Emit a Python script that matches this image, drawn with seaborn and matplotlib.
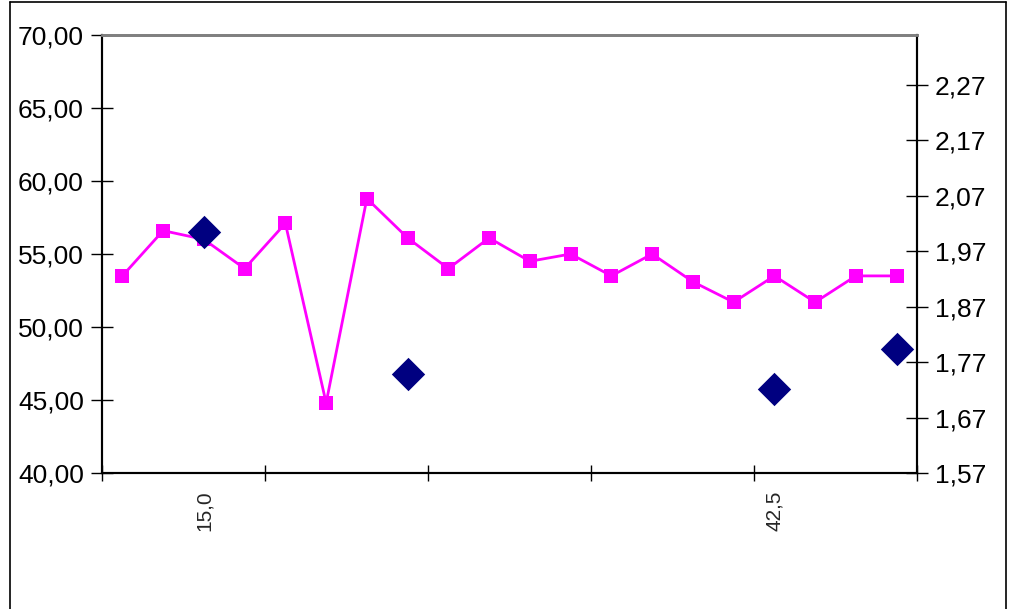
import matplotlib
matplotlib.use("Agg")
import matplotlib.pyplot as plt
import numpy as np
import pandas as pd
import seaborn as sns
from matplotlib.lines import Line2D

# category positions along the x axis (20 categories)
categories = list(range(20))
# tick labels shown on x axis (category index -> label)
label_positions = [2, 16]
label_texts = ["15,0", "42,5"]

# pink series (left axis)
pink_values = [53.5, 56.6, 56.0, 54.0, 57.1, 44.8, 58.8, 56.1, 54.0, 56.1,
               54.5, 55.0, 53.5, 55.0, 53.1, 51.7, 53.5, 51.7, 53.5, 53.5]

# navy diamonds (right axis)
diamond_cats = [2, 7, 16, 19]
diamond_values = [2.004, 1.748, 1.721, 1.793]

left_ticks = [40, 45, 50, 55, 60, 65, 70]
right_ticks = [1.57, 1.67, 1.77, 1.87, 1.97, 2.07, 2.17, 2.27]

sns.set_theme(style="white")
plt.rcParams['font.family'] = ['Liberation Sans', 'DejaVu Sans']

fig = plt.figure(figsize=(10.21, 6.09), dpi=100)
ax = fig.add_axes([102 / 1021, 1 - 473 / 609, 815 / 1021, 438 / 609])

pink_df = pd.DataFrame({"cat": categories, "val": pink_values})
sns.lineplot(data=pink_df, x="cat", y="val", ax=ax, color="#FF00FF", linewidth=2,
             marker="s", markersize=10.5, markeredgewidth=0, zorder=3)

ax.set_xlim(-0.5, 19.5)
ax.set_ylim(40, 70)
ax.set_yticks(left_ticks)
ax.set_yticklabels([f"{v:.2f}".replace(".", ",") for v in left_ticks], fontsize=19)
ax.set_xticks([-0.5, 3.5, 7.5, 11.5, 15.5, 19.5])
ax.set_xticklabels([])
for pos, txt in zip(label_positions, label_texts):
    ax.text(pos, -0.04, txt, transform=ax.get_xaxis_transform(), rotation=90,
            ha="center", va="top", fontsize=15)
ax.set_xlabel("")
ax.set_ylabel("")
ax.tick_params(axis="y", direction="inout", length=16, width=1, colors="black", pad=5)
ax.tick_params(axis="x", direction="inout", length=12, width=1, colors="black", bottom=True)
ax.tick_params(axis="y", left=True)

ax2 = ax.twinx()
diam_df = pd.DataFrame({"cat": diamond_cats, "val": diamond_values})
sns.scatterplot(data=diam_df, x="cat", y="val", ax=ax2, color="#000080", marker="D",
                s=17 ** 2, linewidth=0, zorder=4)
ax2.set_ylim(1.57, 1.57 + 438 / 555)
ax2.set_yticks(right_ticks)
ax2.set_yticklabels([f"{v:.2f}".replace(".", ",") for v in right_ticks], fontsize=19)
ax2.set_xlim(-0.5, 19.5)
ax2.set_xlabel("")
ax2.set_ylabel("")
ax2.tick_params(axis="y", direction="inout", length=16, width=1, colors="black", pad=5, right=True)

for a in (ax, ax2):
    for side in ("left", "bottom", "right"):
        a.spines[side].set_visible(True)
        a.spines[side].set_color("black")
        a.spines[side].set_linewidth(1.5)
    a.spines["top"].set_visible(True)
    a.spines["top"].set_color("#808080")
    a.spines["top"].set_linewidth(2)

# outer chart frame
fig.add_artist(Line2D([10 / 1021, 10 / 1021], [0, 1 - 2 / 609], color="black", lw=1.2,
                      transform=fig.transFigure))
fig.add_artist(Line2D([10 / 1021, 1006 / 1021], [1 - 2 / 609, 1 - 2 / 609], color="black", lw=1.2,
                      transform=fig.transFigure))
fig.add_artist(Line2D([1006 / 1021, 1006 / 1021], [0, 1 - 2 / 609], color="black", lw=1.2,
                      transform=fig.transFigure))

fig.savefig("out.png", dpi=100)
